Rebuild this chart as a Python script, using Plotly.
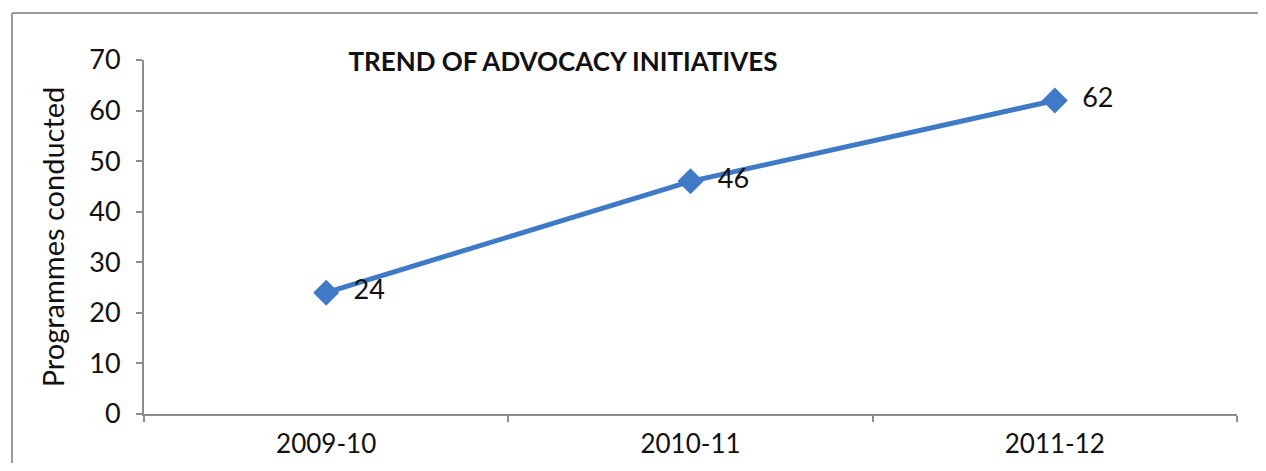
import plotly.graph_objects as go

years = ["2009-10", "2010-11", "2011-12"]
programmes = [24, 46, 62]
y_ticks = [0, 10, 20, 30, 40, 50, 60, 70]

# page body has an 8px margin; figure coords = reference coords - 8
OFF = 8
W, H = 1266 - OFF, 471 - OFF
L, R, T, B = 144 - OFF, 29, 60 - OFF, 50
pw = W - L - R
ph = H - T - B

FONT = "Lato, Open Sans, sans-serif"
TXT = "#111111"

fig = go.Figure()
fig.add_trace(go.Scatter(
    x=years, y=programmes, mode="lines+markers+text",
    line=dict(color="#3F7AC6", width=5),
    marker=dict(symbol="diamond", size=20, color="#3F7AC6"),
    text=[f"  {v}" for v in programmes], textposition="middle right",
    textfont=dict(family=FONT, size=27, color=TXT),
    cliponaxis=False, showlegend=False,
))

axis_col = "#8C8C8C"
fig.update_layout(
    width=W, height=H,
    margin=dict(l=L, r=R, t=T, b=B),
    paper_bgcolor="white", plot_bgcolor="white",
    font=dict(family=FONT, size=26, color=TXT),
    title=dict(text="<b>TREND OF ADVOCACY INITIATIVES</b>",
               font=dict(size=26, color=TXT),
               xref="paper", x=(563 - OFF - L) / pw, xanchor="center",
               yref="container", y=1 - (62 - OFF) / H, yanchor="middle"),
    xaxis=dict(type="category", range=[-0.5, 2.5], showgrid=False,
               showline=True, linecolor=axis_col, linewidth=2,
               ticks="outside", tickson="boundaries", ticklen=6,
               tickcolor=axis_col, tickwidth=2, ticklabelstandoff=6,
               tickfont=dict(size=26)),
    yaxis=dict(range=[0, 70], tickvals=y_ticks, showgrid=False,
               showline=True, linecolor=axis_col, linewidth=2,
               ticks="outside", ticklen=6, tickcolor=axis_col, tickwidth=2,
               ticklabelstandoff=10, tickfont=dict(size=27), zeroline=False,
               title=dict(text="Programmes conducted", font=dict(size=29), standoff=16)),
)

# outer chart border (left and top edges)
x_left = (12 - OFF - L) / pw
y_top = (H - B - (12 - OFF)) / ph
x_right = (W - L) / pw
y_bot = -B / ph
fig.add_shape(type="line", xref="paper", yref="paper", x0=x_left, x1=x_left,
              y0=y_bot, y1=y_top, line=dict(color="#9A9A9A", width=2))
fig.add_shape(type="line", xref="paper", yref="paper", x0=x_left, x1=x_right,
              y0=y_top, y1=y_top, line=dict(color="#9A9A9A", width=2))

fig.write_html("out.html")
